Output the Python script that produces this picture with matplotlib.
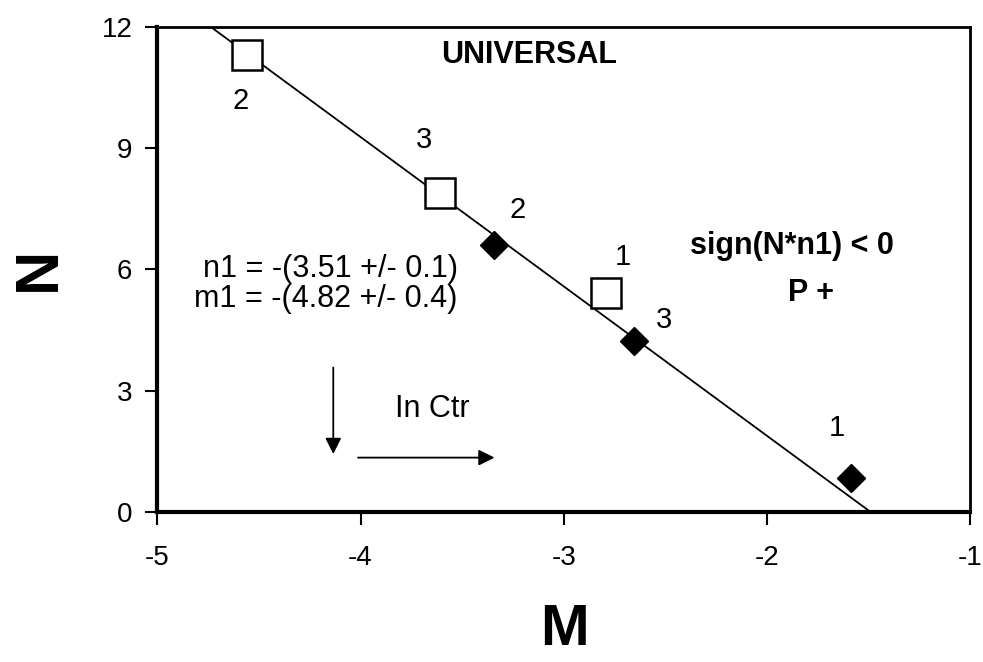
import matplotlib.pyplot as plt
import numpy as np

plt.rcParams['font.family'] = ['Liberation Sans', 'DejaVu Sans']
plt.rcParams['axes.unicode_minus'] = False

# open squares (set A) and filled diamonds (set B), with their point numbers
sq_m = [-4.557, -3.608, -2.791]
sq_n = [11.31, 7.90, 5.42]
sq_lab = ['2', '3', '1']

dm_m = [-3.342, -2.653, -1.585]
dm_n = [6.61, 4.23, 0.84]
dm_lab = ['2', '3', '1']

# universal fit line N = slope*M + icpt
slope = -3.70
icpt = -5.52
fit_m = [-4.80, -1.49]

fig = plt.figure(figsize=(9.83, 6.62), dpi=100)
ax = fig.add_axes([0.160, 0.227, 0.827, 0.732])

fm = np.array(fit_m)
ax.plot(fm, slope * fm + icpt, color='black', lw=1.3)

ax.plot(sq_m, sq_n, 's', ms=21, mfc='white', mec='black', mew=1.8, ls='none')
ax.plot(dm_m, dm_n, 'D', ms=14, mfc='black', mec='black', ls='none')

# point numbers
sq_off = [(-0.035, -1.14), (-0.078, 1.31), (0.084, 0.89)]
for m, n, t, (dx, dy) in zip(sq_m, sq_n, sq_lab, sq_off):
    ax.text(m + dx, n + dy, t, fontsize=21, ha='center', va='center')
dm_off = [(0.113, 0.87), (0.147, 0.52), (-0.069, 1.24)]
for m, n, t, (dx, dy) in zip(dm_m, dm_n, dm_lab, dm_off):
    ax.text(m + dx, n + dy, t, fontsize=21, ha='center', va='center')

ax.text(-3.17, 11.31, 'UNIVERSAL', fontsize=22, fontweight='bold', ha='center', va='center')
ax.text(-1.876, 6.58, 'sign(N*n1) < 0', fontsize=22, fontweight='bold', ha='center', va='center')
ax.text(-1.782, 5.42, 'P +', fontsize=22, fontweight='bold', ha='center', va='center')

ax.text(-4.149, 6.0, 'n1 = -(3.51 +/- 0.1)', fontsize=22, ha='center', va='center')
ax.text(-4.173, 5.27, 'm1 = -(4.82 +/- 0.4)', fontsize=22, ha='center', va='center')
ax.text(-3.647, 2.55, 'In Ctr', fontsize=22, ha='center', va='center')

arrow = dict(arrowstyle='-|>', color='black', lw=1.3, mutation_scale=24)
ax.annotate('', xy=(-4.134, 1.36), xytext=(-4.134, 3.64), arrowprops=arrow)
ax.annotate('', xy=(-3.327, 1.34), xytext=(-4.026, 1.34), arrowprops=arrow)

ax.set_xlim(-5, -1)
ax.set_ylim(0, 12)
ax.set_xticks([-5, -4, -3, -2, -1])
ax.set_yticks([0, 3, 6, 9, 12])
ax.tick_params(direction='out', length=9, width=1.5, labelsize=20)
ax.tick_params(axis='x', pad=15)
ax.tick_params(axis='y', pad=9)
for s in ax.spines.values():
    s.set_linewidth(2)
ax.spines['left'].set_linewidth(3)
ax.spines['bottom'].set_linewidth(3)

fig.text(0.574, 0.048, 'M', fontsize=42, fontweight='bold', ha='center', va='center')
fig.text(0.040, 0.594, 'N', fontsize=44, fontweight='bold', rotation=90,
         ha='center', va='center')

fig.savefig('out.png', dpi=100)
